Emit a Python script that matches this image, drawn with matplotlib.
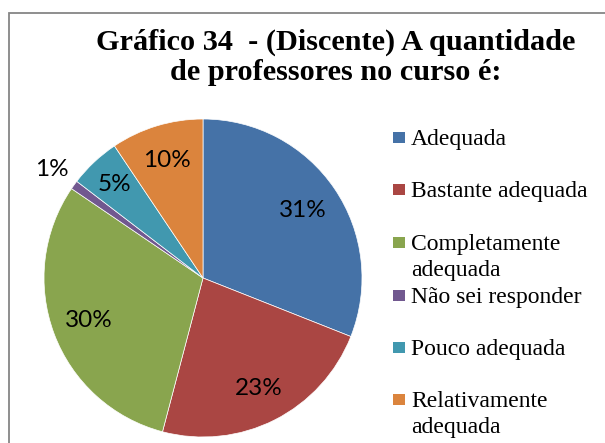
import numpy as np
import matplotlib
matplotlib.use("Agg")
import matplotlib.pyplot as plt
from matplotlib.patches import Rectangle

# dados do gráfico
categorias = ["Adequada", "Bastante adequada", "Completamente\nadequada",
              "Não sei responder", "Pouco adequada", "Relativamente\nadequada"]
valores = [31.0, 23.1, 30.4, 0.9, 5.2, 9.4]
rotulos = ["31%", "23%", "30%", "1%", "5%", "10%"]
cores = ["#4572A7", "#AA4643", "#89A54E", "#71588F", "#4198AF", "#DB843D"]
titulo = ["Gráfico 34  - (Discente) A quantidade", "de professores no curso é:"]

W, H = 605, 443
fig = plt.figure(figsize=(W / 100, H / 100), dpi=100)

# moldura
fig.patches.append(Rectangle((9 / W, -0.05), 1.2, 1 - 13 / H + 0.05,
                             transform=fig.transFigure, fill=False,
                             edgecolor="#868686", linewidth=1.3))

# pizza: centro (203, 278) px, raio 159 px
cx, cy, r = 203, 278, 159
lim = 1.02
ax = fig.add_axes([(cx - r * lim) / W, (H - cy - r * lim) / H,
                   2 * r * lim / W, 2 * r * lim / H])
wedges, _ = ax.pie(valores, colors=cores, startangle=90, counterclock=False,
                   radius=1, wedgeprops=dict(edgecolor="white", linewidth=0.5))
ax.set_xlim(-lim, lim)
ax.set_ylim(-lim, lim)
ax.set_aspect("equal")
ax.axis("off")

dist = [0.76, 0.78, 0.77, 1.17, 0.81, 0.77]
for w, txt, d in zip(wedges, rotulos, dist):
    ang = np.deg2rad((w.theta1 + w.theta2) / 2)
    ax.text(d * np.cos(ang), d * np.sin(ang), txt, ha="center", va="center",
            fontsize=17.5, family="Lato", clip_on=False)

# título (duas linhas, linha de base em px)
for linha, yb in zip(titulo, [50, 80]):
    fig.text(336 / W, 1 - yb / H, linha, ha="center", va="baseline",
             fontsize=21.8, fontweight="bold", family="Liberation Serif")

# legenda
ys = [145, 197, 250, 303, 355, 407]
for cat, cor, y in zip(categorias, cores, ys):
    fig.patches.append(Rectangle((393 / W, 1 - (y - 2) / H), 12 / W, 11 / H,
                                 transform=fig.transFigure, facecolor=cor,
                                 edgecolor="none"))
    for i, parte in enumerate(cat.split("\n")):
        fig.text(411 / W, 1 - (y + 26 * i) / H, parte, ha="left", va="baseline",
                 fontsize=17, family="Liberation Serif")

fig.savefig("out.png", dpi=100)
